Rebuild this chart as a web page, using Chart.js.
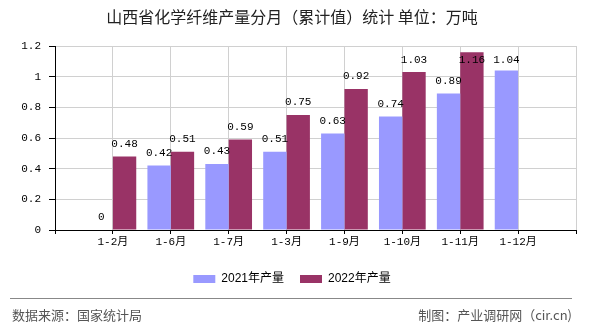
<!DOCTYPE html>
<html>
<head>
<meta charset="utf-8">
<script src="https://cdn.jsdelivr.net/npm/chart.js@4"></script>
<style>
  html, body { margin:0; padding:0; background:#fff; }
  #wrap { position:relative; width:590px; height:330px; overflow:hidden; }
  #c { position:absolute; left:0; top:0; }
  .sep { position:absolute; left:10px; top:298px; width:562px; height:0; border-top:1px solid #888; }
  .foot { position:absolute; top:306px; font:13px/18px "Noto Sans CJK SC", sans-serif; color:#555; white-space:nowrap; }
</style>
</head>
<body>
<div id="wrap">
  <canvas id="c" width="590" height="330"></canvas>
  <div class="sep"></div>
  <div class="foot" style="left:12px;">数据来源：国家统计局</div>
  <div class="foot" style="right:18px;">制图：产业调研网（cir.cn)</div>
</div>
<script>
const titleText = '山西省化学纤维产量分月（累计值）统计 单位：万吨';
const categories = ['', '1-2月', '1-6月', '1-7月', '1-3月', '1-9月', '1-10月', '1-11月', '1-12月', ''];
const seriesNames = ['2021年产量', '2022年产量'];
const series2021 = [null, 0, 0.42, 0.43, 0.51, 0.63, 0.74, 0.89, 1.04, null];
const series2022 = [null, 0.48, 0.51, 0.59, 0.75, 0.92, 1.03, 1.16, null, null];
const yTicks = [0, 0.2, 0.4, 0.6, 0.8, 1, 1.2];

const monoFont = "'Liberation Mono', 'Noto Sans CJK SC', monospace";

const valueLabels = {
  id: 'valueLabels',
  afterDatasetsDraw(chart) {
    const ctx = chart.ctx;
    const area = chart.chartArea;
    ctx.save();
    ctx.font = '11px ' + monoFont;
    ctx.fillStyle = '#000';
    ctx.textAlign = 'center';
    ctx.textBaseline = 'middle';
    chart.data.datasets.forEach((ds, di) => {
      const meta = chart.getDatasetMeta(di);
      meta.data.forEach((bar, i) => {
        const v = ds.data[i];
        if (v === null || v === undefined) return;
        const y = Math.max(bar.y - 12.5, area.top + 14);
        ctx.fillText(String(v), bar.x, y);
      });
    });
    ctx.restore();
  }
};

new Chart(document.getElementById('c'), {
  type: 'bar',
  data: {
    labels: categories,
    datasets: [
      { label: seriesNames[0], data: series2021, backgroundColor: '#9999ff',
        categoryPercentage: 0.807, barPercentage: 1 },
      { label: seriesNames[1], data: series2022, backgroundColor: '#993366',
        categoryPercentage: 0.807, barPercentage: 1 }
    ]
  },
  options: {
    responsive: false,
    animation: false,
    layout: { padding: { left: 8, right: 14, top: 0, bottom: 35 } },
    plugins: {
      title: {
        display: true, text: titleText, color: '#222',
        font: { size: 16, family: "'Noto Sans CJK SC', sans-serif", weight: 'normal' },
        padding: { top: 7.4, bottom: 19.4 }
      },
      legend: {
        position: 'bottom',
        labels: {
          boxWidth: 22, boxHeight: 8, padding: 16, color: '#000',
          font: { size: 12, family: "'Liberation Sans', 'Noto Sans CJK SC', sans-serif" }
        }
      },
      tooltip: { enabled: false }
    },
    scales: {
      x: {
        offset: false,
        grid: { offset: false, color: '#d0d0d0', tickColor: '#000', tickLength: 4, drawOnChartArea: true },
        border: { color: '#000', width: 1 },
        ticks: { color: '#000', padding: 1, autoSkip: false, maxRotation: 0,
                 font: { size: 11, family: monoFont } },
        afterFit(scale) { scale.height = 27; }
      },
      y: {
        min: 0, max: 1.2,
        grid: { color: '#d0d0d0', tickColor: '#000', tickLength: 6 },
        border: { color: '#000', width: 1 },
        ticks: { color: '#000', padding: 8, font: { size: 11, family: monoFont },
                 callback: (v) => String(Number(v.toFixed(1))) },
        afterBuildTicks(scale) { scale.ticks = yTicks.map(v => ({ value: v })); },
        afterFit(scale) { scale.width = 47; }
      }
    }
  },
  plugins: [valueLabels]
});
</script>
</body>
</html>
